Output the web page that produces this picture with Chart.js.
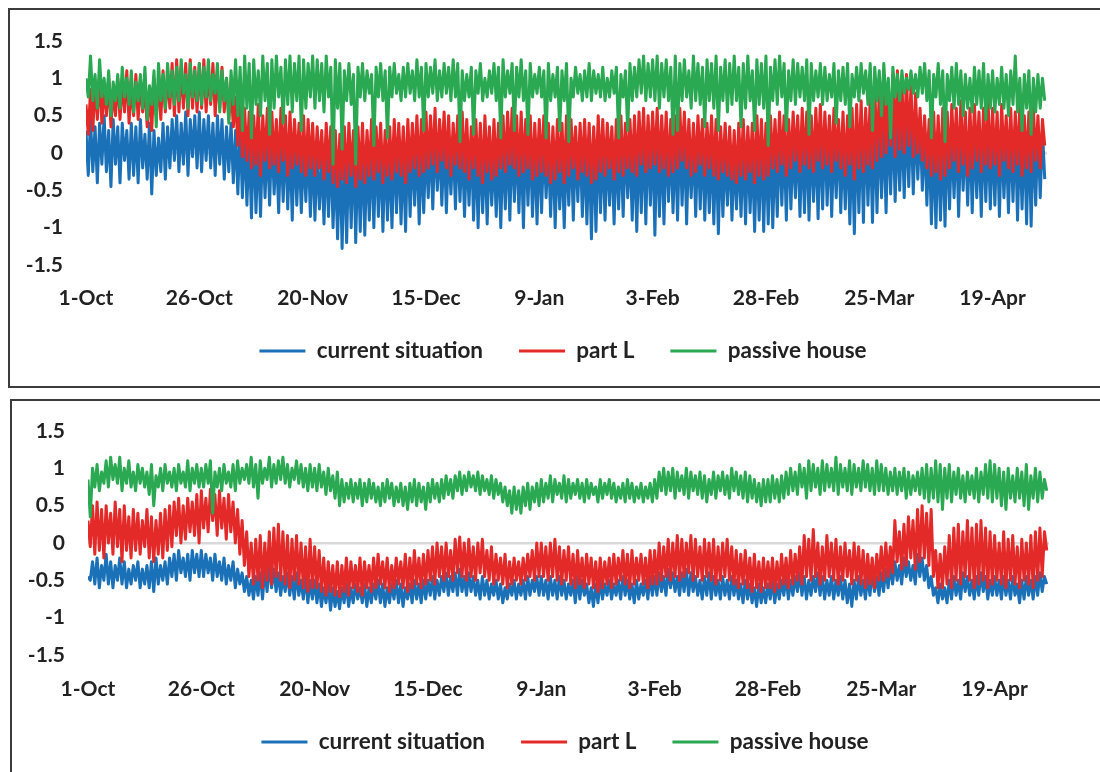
<!DOCTYPE html>
<html><head><meta charset="utf-8">
<script src="https://cdn.jsdelivr.net/npm/chart.js@4.4.1/dist/chart.umd.min.js"></script>
<style>
html,body{margin:0;padding:0;background:#fff;width:1100px;height:772px;overflow:hidden;}
.cv{position:absolute;left:0;}
#boxA{position:absolute;left:8px;top:8px;width:1200px;height:376px;border:2px solid #3c3c3c;}
#boxB{position:absolute;left:10px;top:399px;width:1200px;height:500px;border:2px solid #3c3c3c;}
</style></head><body>
<div id="boxA"></div><div id="boxB"></div>
<canvas id="cA" class="cv" style="top:0px" width="1100" height="386"></canvas>
<canvas id="cB" class="cv" style="top:392px" width="1100" height="380"></canvas>
<script>
// ---- categories / tick labels (one tick every 25 days, day 0 = 1-Oct) ----
const xTickLabels = ['1-Oct','26-Oct','20-Nov','15-Dec','9-Jan','3-Feb','28-Feb','25-Mar','19-Apr'];
const seriesNames = ['current situation','part L','passive house'];
const seriesColors = ['#1A71B8','#E42A29','#2AA852'];

// ---- TOP panel: daily high / low values (212 days, 1-Oct .. 30-Apr) ----
const topCurrentHi = [
0.3,0.45,0.35,0.4,0.5,0.3,0.45,0.35,0.4,0.3,0.4,0.35,0.45,0.25,0.4,0.3,0.2,0.4,0.35,0.45,0.5,0.4,0.55,0.45,0.5,
0.55,0.45,0.5,0.4,0.5,0.45,0.35,0.4,0.3,0.35,0.25,0.2,0.3,0.15,0.25,0.2,0.3,0.1,0.2,0.25,0.15,0.2,0.1,0.05,0.15,
0.1,0.0,-0.05,0.05,0.1,-0.1,0.0,0.05,0.1,0.15,0.05,0.1,0.0,0.1,0.15,0.05,0.1,0.0,0.15,0.1,0.05,0.2,0.1,0.15,0.05,
0.15,0.2,0.25,0.15,0.2,0.1,0.2,0.25,0.15,0.1,0.2,0.1,0.15,0.05,0.1,0.0,0.1,0.15,0.2,0.25,0.2,0.15,0.25,0.2,0.1,
0.15,0.2,0.1,0.15,0.05,0.0,0.1,0.2,0.15,0.2,0.1,0.15,0.2,0.25,0.15,0.1,0.05,0.1,0.15,0.2,0.1,0.15,0.2,0.25,0.3,
0.25,0.3,0.2,0.25,0.15,0.2,0.3,0.25,0.2,0.15,0.25,0.2,0.1,0.15,0.2,0.1,0.05,0.1,0.0,0.05,0.1,0.15,0.05,0.1,0.2,
0.15,0.2,0.1,0.25,0.2,0.3,0.15,0.25,0.2,0.3,0.25,0.2,0.3,0.35,0.25,0.2,0.3,0.15,0.25,0.2,0.3,0.35,0.4,0.3,0.35,
0.4,0.35,0.45,0.5,0.4,0.45,0.5,0.55,0.45,0.4,0.3,0.2,0.15,0.25,0.2,0.3,0.25,0.35,0.3,0.25,0.35,0.3,0.25,0.35,0.3,
0.25,0.35,0.3,0.2,0.3,0.35,0.25,0.3,0.35,0.3,0.35,0.3];
const topCurrentLo = [
-0.3,-0.25,-0.4,-0.15,-0.25,-0.45,-0.15,-0.4,-0.1,-0.35,-0.3,-0.4,-0.2,-0.35,-0.55,-0.3,-0.25,-0.35,-0.2,-0.1,-0.25,-0.15,-0.3,-0.05,-0.2,
-0.25,-0.1,-0.2,-0.3,-0.15,-0.35,-0.25,-0.4,-0.55,-0.6,-0.7,-0.87,-0.8,-0.85,-0.6,-0.7,-0.55,-0.8,-0.65,-0.75,-0.9,-0.7,-0.8,-0.65,-0.85,
-0.9,-0.75,-0.95,-0.85,-1.0,-1.15,-1.28,-1.2,-1.0,-1.2,-1.05,-1.1,-0.9,-1.0,-0.85,-1.05,-0.9,-1.0,-0.8,-0.95,-1.05,-0.85,-0.7,-0.95,-0.8,
-0.6,-0.75,-0.5,-0.7,-0.8,-0.55,-0.75,-0.65,-0.85,-0.7,-0.9,-1.0,-0.8,-0.95,-0.7,-0.85,-1.0,-0.75,-0.9,-0.65,-0.8,-1.0,-0.7,-0.85,-0.95,
-0.8,-0.6,-0.85,-1.0,-0.75,-1.0,-0.7,-0.9,-0.65,-0.85,-0.95,-1.15,-1.05,-0.8,-0.9,-0.7,-0.95,-0.75,-0.85,-0.6,-0.9,-1.05,-0.8,-0.95,-0.7,
-1.1,-0.85,-0.95,-0.65,-0.8,-0.9,-0.7,-0.95,-0.6,-0.85,-0.75,-0.9,-0.8,-0.95,-1.08,-0.85,-0.7,-0.9,-0.75,-0.85,-0.95,-0.8,-1.05,-0.9,-1.05,
-0.95,-1.0,-0.85,-0.7,-0.9,-0.75,-0.6,-0.85,-0.8,-0.9,-0.65,-0.88,-0.75,-0.7,-0.85,-0.6,-0.8,-0.75,-0.95,-1.08,-0.8,-0.93,-0.7,-0.93,-0.8,
-0.6,-0.8,-0.55,-0.65,-0.5,-0.6,-0.45,-0.55,-0.35,-0.5,-0.7,-0.95,-1.0,-0.9,-0.98,-0.75,-0.6,-0.85,-0.5,-0.7,-0.8,-0.6,-0.85,-0.65,-0.75,
-0.7,-0.85,-0.6,-0.8,-0.65,-0.9,-0.75,-0.95,-0.98,-0.7,-0.6,-0.35];
const topPartLHi = [
0.65,0.85,0.95,1.05,0.9,1.0,0.85,1.0,0.95,1.1,0.9,1.05,0.95,0.9,0.85,1.0,0.95,1.1,1.05,1.2,1.25,1.15,1.2,1.25,1.15,
1.2,1.25,1.1,1.2,1.05,1.15,1.0,0.9,0.75,0.7,0.6,0.55,0.5,0.65,0.5,0.6,0.55,0.45,0.6,0.5,0.55,0.45,0.4,0.5,0.45,
0.4,0.35,0.3,0.4,0.35,0.3,0.25,0.35,0.4,0.3,0.35,0.4,0.3,0.45,0.35,0.4,0.3,0.35,0.45,0.4,0.35,0.45,0.4,0.5,0.45,
0.55,0.5,0.6,0.45,0.55,0.5,0.4,0.5,0.55,0.45,0.35,0.45,0.4,0.5,0.35,0.45,0.4,0.5,0.55,0.6,0.5,0.55,0.45,0.5,0.4,
0.45,0.5,0.4,0.35,0.45,0.4,0.5,0.45,0.35,0.4,0.45,0.4,0.35,0.5,0.45,0.4,0.35,0.45,0.5,0.4,0.45,0.5,0.55,0.6,0.5,
0.55,0.6,0.5,0.55,0.45,0.5,0.6,0.55,0.45,0.4,0.5,0.45,0.4,0.5,0.45,0.35,0.4,0.35,0.3,0.4,0.45,0.35,0.4,0.5,0.45,
0.4,0.5,0.45,0.55,0.5,0.45,0.55,0.5,0.6,0.55,0.5,0.6,0.65,0.55,0.5,0.6,0.45,0.55,0.5,0.6,0.65,0.7,0.6,0.75,0.9,
0.85,1.0,0.9,1.05,1.1,0.95,1.05,0.9,0.8,0.6,0.5,0.45,0.55,0.5,0.6,0.55,0.65,0.6,0.7,0.55,0.6,0.65,0.55,0.6,0.7,
0.6,0.55,0.65,0.5,0.6,0.55,0.65,0.5,0.55,0.6,0.5,0.45];
const topPartLLo = [
0.25,0.3,0.45,0.4,0.5,0.35,0.5,0.45,0.55,0.4,0.5,0.45,0.55,0.35,0.3,0.5,0.45,0.55,0.6,0.5,0.55,0.6,0.5,0.6,0.55,
0.6,0.55,0.65,0.5,0.6,0.55,0.45,0.35,0.1,-0.05,-0.1,-0.2,-0.15,-0.3,-0.1,-0.2,-0.15,-0.25,-0.1,-0.3,-0.2,-0.15,-0.25,-0.3,-0.2,
-0.3,-0.2,-0.35,-0.25,-0.4,-0.45,-0.35,-0.4,-0.3,-0.45,-0.35,-0.4,-0.3,-0.35,-0.25,-0.4,-0.3,-0.35,-0.25,-0.3,-0.4,-0.25,-0.2,-0.3,-0.25,
-0.2,-0.15,-0.25,-0.1,-0.2,-0.3,-0.15,-0.2,-0.25,-0.35,-0.2,-0.3,-0.4,-0.25,-0.35,-0.3,-0.2,-0.25,-0.15,-0.2,-0.3,-0.25,-0.2,-0.35,-0.3,
-0.25,-0.3,-0.4,-0.35,-0.25,-0.4,-0.3,-0.2,-0.35,-0.25,-0.3,-0.4,-0.35,-0.25,-0.3,-0.2,-0.35,-0.25,-0.3,-0.2,-0.25,-0.3,-0.15,-0.25,-0.2,
-0.15,-0.25,-0.2,-0.3,-0.25,-0.2,-0.1,-0.2,-0.3,-0.25,-0.15,-0.3,-0.2,-0.3,-0.35,-0.25,-0.3,-0.35,-0.4,-0.3,-0.35,-0.25,-0.4,-0.3,-0.35,
-0.3,-0.2,-0.25,-0.15,-0.3,-0.2,-0.1,-0.25,-0.15,-0.2,-0.25,-0.1,-0.2,-0.15,-0.25,-0.1,-0.2,-0.3,-0.15,-0.35,-0.2,-0.25,-0.15,-0.2,-0.1,
-0.05,0.0,0.1,-0.05,0.05,0.0,0.1,-0.05,0.0,-0.1,-0.2,-0.3,-0.25,-0.35,-0.3,-0.2,-0.1,-0.25,-0.15,-0.3,-0.2,-0.1,-0.25,-0.15,-0.2,
-0.15,-0.3,-0.1,-0.2,-0.25,-0.15,-0.3,-0.2,-0.25,-0.1,-0.2,0.1];
const topPassiveHi = [
1.0,1.3,1.05,1.25,1.0,1.1,0.95,1.05,1.15,1.0,1.1,0.95,1.05,1.15,0.9,1.1,1.2,1.05,1.2,1.1,1.15,1.25,1.05,1.2,1.1,
1.2,1.15,1.25,1.05,1.2,1.1,1.0,1.1,1.25,1.15,1.3,1.2,1.25,1.1,1.3,1.2,1.25,1.3,1.15,1.25,1.3,1.2,1.3,1.25,1.2,
1.3,1.25,1.2,1.3,1.15,1.25,1.2,1.1,1.2,1.05,1.15,1.2,1.1,1.05,1.15,1.2,1.1,1.15,1.2,1.05,1.15,1.2,1.1,1.25,1.15,
1.2,1.15,1.25,1.1,1.2,1.15,1.25,1.2,1.1,1.05,1.15,1.1,1.2,1.0,1.1,1.2,1.15,1.25,1.1,1.2,1.15,1.25,1.1,1.2,1.05,
1.15,1.1,1.2,1.05,1.15,1.1,1.2,1.0,1.15,1.05,1.1,1.2,1.1,1.05,1.15,1.0,1.1,1.15,1.05,1.1,1.2,1.15,1.25,1.3,1.2,
1.25,1.3,1.2,1.25,1.15,1.3,1.2,1.25,1.1,1.3,1.2,1.15,1.25,1.2,1.3,1.15,1.25,1.2,1.3,1.15,1.2,1.3,1.1,1.25,1.2,
1.3,1.15,1.25,1.3,1.2,1.1,1.25,1.2,1.15,1.25,1.2,1.1,1.2,1.15,1.05,1.2,1.1,1.15,1.2,1.05,1.15,1.2,1.1,1.2,1.15,
1.1,1.2,1.0,1.15,1.05,1.1,1.0,1.1,1.05,1.15,1.2,1.1,1.05,1.2,1.1,1.05,1.15,1.2,1.1,1.05,1.0,1.15,1.1,1.2,1.05,
1.1,1.0,1.15,1.05,1.1,1.3,1.0,1.05,1.1,1.0,1.05,1.0];
const topPassiveLo = [
0.75,0.7,0.6,0.75,0.65,0.5,0.7,0.6,0.75,0.65,0.55,0.7,0.6,0.45,0.65,0.35,0.7,0.6,0.75,0.65,0.7,0.8,0.6,0.75,0.7,
0.65,0.75,0.7,0.8,0.55,0.7,0.4,0.65,0.5,0.3,0.6,0.2,0.65,0.5,0.7,0.25,0.6,0.75,0.4,0.65,0.55,0.7,0.3,0.6,0.75,
0.6,0.7,0.55,0.75,-0.15,0.6,0.05,0.7,0.65,-0.15,0.75,0.7,0.8,0.1,0.75,0.7,0.2,0.75,0.8,0.7,0.75,0.8,0.7,0.75,0.3,
0.75,0.8,0.7,0.75,0.8,0.7,0.75,0.15,0.7,0.75,0.25,0.8,0.7,0.75,0.8,0.7,0.2,0.75,0.8,0.3,0.75,0.7,0.25,0.75,0.8,
0.75,0.2,0.7,0.75,0.3,0.7,0.15,0.75,0.8,0.7,0.75,0.7,0.8,0.75,0.7,0.75,0.8,0.2,0.75,0.3,0.7,0.75,0.8,0.7,0.75,
0.7,0.6,0.75,0.7,0.25,0.3,0.7,0.75,0.6,0.7,0.65,0.35,0.7,0.6,0.3,0.7,0.55,0.65,0.7,0.35,0.6,0.7,0.3,0.65,0.6,
0.1,0.7,0.65,0.75,0.3,0.7,0.65,0.75,0.7,0.25,0.7,0.75,0.65,0.7,0.75,0.4,0.7,0.65,0.35,0.75,0.7,0.8,0.65,0.3,0.7,
0.5,0.65,0.2,0.75,0.7,0.8,0.85,0.8,0.75,0.8,0.7,0.2,0.75,0.65,0.15,0.7,0.6,0.65,0.5,0.6,0.55,0.65,0.6,0.45,0.6,
0.55,0.65,0.6,0.5,0.65,0.55,0.3,0.6,0.25,0.55,0.6,0.7];

// ---- BOTTOM panel: daily high / low values ----
const botCurrentHi = [
-0.45,-0.25,-0.2,-0.3,-0.15,-0.25,-0.3,-0.2,-0.25,-0.35,-0.3,-0.25,-0.35,-0.3,-0.25,-0.2,-0.3,-0.25,-0.2,-0.15,-0.1,-0.2,-0.15,-0.1,-0.15,
-0.1,-0.15,-0.2,-0.15,-0.25,-0.2,-0.3,-0.25,-0.35,-0.4,-0.45,-0.5,-0.45,-0.4,-0.35,-0.3,-0.35,-0.4,-0.45,-0.4,-0.45,-0.4,-0.5,-0.45,-0.5,
-0.5,-0.55,-0.6,-0.55,-0.6,-0.65,-0.6,-0.55,-0.6,-0.55,-0.6,-0.55,-0.6,-0.55,-0.5,-0.55,-0.6,-0.55,-0.5,-0.55,-0.6,-0.55,-0.5,-0.55,-0.5,
-0.5,-0.45,-0.5,-0.45,-0.4,-0.45,-0.4,-0.35,-0.45,-0.4,-0.45,-0.5,-0.45,-0.5,-0.55,-0.5,-0.55,-0.6,-0.55,-0.5,-0.55,-0.5,-0.45,-0.5,-0.45,
-0.45,-0.5,-0.45,-0.5,-0.45,-0.5,-0.55,-0.5,-0.45,-0.5,-0.55,-0.6,-0.55,-0.5,-0.55,-0.5,-0.55,-0.5,-0.45,-0.5,-0.55,-0.5,-0.55,-0.5,-0.45,
-0.45,-0.4,-0.45,-0.35,-0.4,-0.45,-0.4,-0.35,-0.4,-0.45,-0.5,-0.45,-0.4,-0.45,-0.5,-0.45,-0.5,-0.45,-0.5,-0.55,-0.5,-0.55,-0.6,-0.55,-0.6,
-0.55,-0.5,-0.55,-0.5,-0.45,-0.5,-0.45,-0.4,-0.45,-0.5,-0.45,-0.4,-0.45,-0.5,-0.45,-0.5,-0.45,-0.5,-0.55,-0.5,-0.45,-0.5,-0.45,-0.4,-0.45,
-0.4,-0.35,-0.3,-0.25,-0.3,-0.2,-0.25,-0.3,-0.15,-0.2,-0.3,-0.45,-0.6,-0.55,-0.6,-0.5,-0.45,-0.5,-0.4,-0.45,-0.5,-0.45,-0.4,-0.45,-0.5,
-0.45,-0.5,-0.45,-0.5,-0.45,-0.55,-0.5,-0.45,-0.5,-0.45,-0.4,-0.45];
const botCurrentLo = [
-0.5,-0.55,-0.6,-0.5,-0.55,-0.6,-0.5,-0.55,-0.6,-0.55,-0.5,-0.6,-0.55,-0.6,-0.65,-0.55,-0.5,-0.55,-0.45,-0.5,-0.4,-0.45,-0.5,-0.4,-0.45,
-0.45,-0.4,-0.5,-0.45,-0.5,-0.55,-0.5,-0.6,-0.55,-0.65,-0.7,-0.75,-0.7,-0.75,-0.65,-0.6,-0.65,-0.7,-0.65,-0.7,-0.75,-0.7,-0.75,-0.8,-0.75,
-0.8,-0.85,-0.8,-0.9,-0.85,-0.88,-0.8,-0.85,-0.8,-0.75,-0.8,-0.85,-0.8,-0.75,-0.8,-0.85,-0.8,-0.75,-0.8,-0.85,-0.75,-0.8,-0.75,-0.8,-0.75,
-0.7,-0.75,-0.7,-0.65,-0.7,-0.65,-0.7,-0.65,-0.7,-0.65,-0.7,-0.75,-0.7,-0.75,-0.7,-0.75,-0.8,-0.75,-0.7,-0.75,-0.7,-0.75,-0.7,-0.65,-0.7,
-0.7,-0.75,-0.7,-0.75,-0.7,-0.75,-0.7,-0.8,-0.75,-0.7,-0.8,-0.85,-0.8,-0.75,-0.7,-0.75,-0.7,-0.75,-0.7,-0.75,-0.8,-0.75,-0.7,-0.75,-0.7,
-0.7,-0.65,-0.7,-0.6,-0.65,-0.7,-0.65,-0.7,-0.65,-0.7,-0.75,-0.7,-0.75,-0.7,-0.75,-0.7,-0.75,-0.7,-0.75,-0.8,-0.75,-0.8,-0.85,-0.8,-0.8,
-0.75,-0.8,-0.75,-0.7,-0.75,-0.7,-0.65,-0.7,-0.75,-0.7,-0.65,-0.7,-0.75,-0.7,-0.75,-0.7,-0.75,-0.8,-0.85,-0.75,-0.7,-0.75,-0.7,-0.65,-0.7,
-0.65,-0.6,-0.55,-0.5,-0.55,-0.45,-0.5,-0.55,-0.45,-0.5,-0.6,-0.7,-0.8,-0.75,-0.8,-0.75,-0.7,-0.75,-0.65,-0.7,-0.75,-0.7,-0.65,-0.75,-0.7,
-0.7,-0.75,-0.7,-0.75,-0.7,-0.8,-0.75,-0.7,-0.75,-0.7,-0.65,-0.55];
const botPartLHi = [
0.3,0.5,0.55,0.45,0.5,0.4,0.55,0.45,0.5,0.35,0.45,0.4,0.3,0.45,0.35,0.3,0.4,0.45,0.5,0.55,0.6,0.5,0.6,0.55,0.65,
0.7,0.6,0.72,0.65,0.7,0.6,0.65,0.55,0.45,0.3,0.15,0.0,0.05,0.1,0.0,0.15,0.2,0.25,0.15,0.1,0.05,0.1,0.0,-0.05,0.05,
-0.05,-0.1,-0.2,-0.25,-0.3,-0.25,-0.3,-0.2,-0.25,-0.3,-0.2,-0.25,-0.3,-0.2,-0.15,-0.25,-0.2,-0.3,-0.2,-0.25,-0.15,-0.2,-0.1,-0.2,-0.15,
-0.1,-0.05,0.0,-0.05,0.0,-0.1,0.05,0.08,0.0,0.05,-0.05,0.0,0.05,-0.1,-0.05,-0.15,-0.2,-0.15,-0.25,-0.2,-0.25,-0.2,-0.15,-0.1,0.0,
0.0,-0.05,0.0,0.05,-0.05,-0.1,-0.05,-0.15,-0.1,-0.2,-0.15,-0.2,-0.25,-0.2,-0.25,-0.2,-0.15,-0.2,-0.1,-0.15,-0.1,-0.2,-0.15,-0.2,-0.1,
-0.1,0.0,-0.05,0.05,0.0,0.1,0.05,0.0,0.1,0.05,-0.05,0.05,0.0,0.05,-0.05,0.0,0.05,-0.05,-0.1,-0.15,-0.1,-0.2,-0.15,-0.25,-0.2,
-0.25,-0.2,-0.25,-0.15,-0.2,-0.1,-0.15,-0.05,0.1,0.05,0.18,0.0,-0.05,0.1,0.0,0.05,-0.05,0.0,-0.1,0.0,-0.05,-0.1,-0.15,-0.2,-0.15,
-0.05,0.0,-0.05,0.3,0.15,0.25,0.35,0.3,0.45,0.5,0.4,0.45,-0.1,-0.15,-0.05,0.1,0.2,0.25,0.15,0.3,0.2,0.25,0.3,0.2,0.15,
0.1,0.0,0.15,0.05,0.1,-0.05,0.05,0.0,0.1,0.15,0.2,0.15];
const botPartLLo = [
-0.05,-0.15,-0.1,-0.2,0.0,-0.15,-0.05,-0.25,-0.1,-0.2,-0.1,-0.15,-0.05,-0.2,-0.25,-0.15,-0.2,-0.1,-0.05,0.1,0.0,0.05,0.15,0.1,0.0,
0.2,0.15,0.3,0.1,0.2,0.05,0.15,0.0,-0.15,-0.3,-0.45,-0.55,-0.5,-0.6,-0.5,-0.55,-0.45,-0.5,-0.55,-0.6,-0.5,-0.55,-0.6,-0.65,-0.6,
-0.6,-0.65,-0.7,-0.65,-0.7,-0.72,-0.65,-0.7,-0.6,-0.65,-0.7,-0.6,-0.65,-0.6,-0.55,-0.6,-0.65,-0.6,-0.55,-0.6,-0.65,-0.6,-0.55,-0.6,-0.55,
-0.5,-0.55,-0.45,-0.5,-0.45,-0.5,-0.4,-0.45,-0.5,-0.45,-0.5,-0.4,-0.45,-0.5,-0.55,-0.5,-0.55,-0.6,-0.55,-0.5,-0.55,-0.5,-0.45,-0.5,-0.45,
-0.45,-0.5,-0.45,-0.5,-0.55,-0.5,-0.55,-0.6,-0.55,-0.6,-0.55,-0.6,-0.65,-0.6,-0.55,-0.6,-0.55,-0.5,-0.55,-0.6,-0.55,-0.5,-0.55,-0.6,-0.55,
-0.55,-0.5,-0.45,-0.5,-0.45,-0.5,-0.45,-0.4,-0.5,-0.45,-0.5,-0.45,-0.5,-0.55,-0.5,-0.45,-0.5,-0.55,-0.6,-0.55,-0.6,-0.65,-0.6,-0.65,-0.6,
-0.6,-0.65,-0.6,-0.55,-0.6,-0.55,-0.5,-0.55,-0.45,-0.5,-0.45,-0.55,-0.5,-0.45,-0.5,-0.55,-0.5,-0.45,-0.55,-0.5,-0.55,-0.6,-0.55,-0.6,-0.5,
-0.5,-0.45,-0.4,-0.25,-0.35,-0.3,-0.2,-0.35,-0.25,-0.2,-0.3,-0.45,-0.6,-0.6,-0.55,-0.6,-0.5,-0.55,-0.45,-0.5,-0.6,-0.55,-0.5,-0.6,-0.55,
-0.5,-0.55,-0.6,-0.5,-0.55,-0.6,-0.5,-0.55,-0.6,-0.5,-0.45,-0.1];
const botPassiveHi = [
0.85,1.0,1.05,0.95,1.1,1.15,1.05,1.15,1.0,1.1,0.95,1.05,1.0,0.95,1.05,0.9,1.0,1.05,0.95,1.0,1.05,0.95,1.1,1.0,1.05,
1.0,1.05,1.1,0.95,1.0,1.05,0.95,1.05,1.1,1.0,1.05,1.15,1.05,1.1,1.0,1.15,1.05,1.1,1.15,1.05,1.0,1.1,1.05,1.0,1.05,
1.0,1.05,0.95,1.0,0.9,0.95,0.85,0.8,0.85,0.8,0.85,0.8,0.85,0.8,0.75,0.8,0.85,0.8,0.75,0.8,0.75,0.8,0.85,0.8,0.75,
0.8,0.85,0.8,0.85,0.9,0.85,0.9,0.95,0.9,0.95,0.9,0.95,0.9,0.85,0.9,0.85,0.8,0.75,0.7,0.75,0.7,0.75,0.8,0.75,0.8,
0.85,0.8,0.9,0.85,0.8,0.9,0.85,0.8,0.85,0.8,0.85,0.8,0.75,0.85,0.8,0.85,0.8,0.75,0.8,0.85,0.8,0.75,0.8,0.75,0.8,
0.85,0.95,1.0,0.95,1.0,0.95,0.9,1.0,0.95,0.9,0.95,0.9,0.85,0.95,0.9,0.95,0.9,1.0,0.95,0.9,0.95,0.9,0.85,0.8,0.85,
0.85,0.9,0.85,0.9,0.95,1.0,0.95,1.05,1.0,1.1,1.05,1.0,1.1,1.05,1.0,1.15,1.05,1.0,1.1,1.05,1.0,1.1,1.05,1.0,1.1,
1.05,1.0,0.95,1.0,0.95,1.0,0.95,0.9,0.95,1.0,1.05,1.0,1.1,1.05,1.0,1.05,0.95,1.0,0.9,0.95,0.9,1.0,0.95,1.05,1.1,
1.05,1.0,0.95,1.0,0.9,1.0,0.95,1.05,0.9,1.0,0.95,0.85];
const botPassiveLo = [
0.35,0.75,0.7,0.8,0.75,0.85,0.8,0.7,0.8,0.75,0.7,0.8,0.75,0.65,0.5,0.75,0.7,0.8,0.75,0.7,0.8,0.75,0.7,0.8,0.75,
0.75,0.8,0.4,0.75,0.7,0.8,0.75,0.7,0.8,0.85,0.8,0.75,0.6,0.8,0.85,0.75,0.8,0.85,0.8,0.75,0.85,0.8,0.75,0.7,0.75,
0.7,0.75,0.65,0.7,0.6,0.5,0.55,0.6,0.55,0.6,0.5,0.55,0.6,0.55,0.5,0.55,0.6,0.5,0.55,0.5,0.45,0.55,0.5,0.55,0.45,
0.55,0.6,0.55,0.6,0.65,0.6,0.7,0.65,0.7,0.75,0.7,0.65,0.7,0.65,0.6,0.65,0.55,0.5,0.4,0.45,0.4,0.5,0.45,0.55,0.5,
0.55,0.6,0.55,0.65,0.6,0.55,0.6,0.65,0.6,0.55,0.6,0.65,0.55,0.6,0.65,0.6,0.55,0.6,0.55,0.6,0.55,0.6,0.55,0.6,0.55,
0.6,0.7,0.65,0.7,0.6,0.7,0.65,0.6,0.7,0.65,0.6,0.55,0.65,0.6,0.7,0.65,0.6,0.7,0.65,0.6,0.55,0.6,0.55,0.5,0.55,
0.55,0.6,0.55,0.6,0.65,0.7,0.65,0.75,0.6,0.7,0.75,0.65,0.7,0.75,0.7,0.65,0.75,0.7,0.65,0.75,0.7,0.75,0.7,0.65,0.7,
0.7,0.65,0.7,0.65,0.7,0.6,0.65,0.7,0.65,0.6,0.55,0.6,0.55,0.45,0.6,0.55,0.65,0.6,0.55,0.65,0.6,0.55,0.65,0.6,0.55,
0.6,0.5,0.45,0.6,0.55,0.6,0.5,0.45,0.6,0.55,0.6,0.7];

// ---- build chart ----
Chart.defaults.font.family = 'Lato';
Chart.defaults.font.weight = 'bold';
Chart.defaults.color = '#222';

function zigzag(hi, lo) {
  const pts = [];
  const n = Math.min(hi.length, lo.length);
  for (let d = 0; d < n; d++) {
    pts.push({x: d, y: hi[d]});
    pts.push({x: d + 0.5, y: lo[d]});
  }
  return pts;
}

// moves the legend row to a chosen centre / text line after layout
const legendPlace = {
  id: 'legendPlace',
  afterLayout(chart, args, o) {
    const lg = chart.legend;
    if (!lg) return;
    const dx = o.centerX - (lg.left + lg.right) / 2;
    lg.left += dx; lg.right += dx;
    const h = lg.bottom - lg.top;
    const top = o.textY - o.pad - o.itemH / 2;
    lg.top = top; lg.bottom = top + h;
  }
};

const LEG_FONT = 22.5, LEG_PAD = 36;

function makeChart(id, hiLo, lay) {
  const datasets = hiLo.map((s, i) => ({
    label: seriesNames[i],
    data: zigzag(s[0], s[1]),
    borderColor: seriesColors[i],
    backgroundColor: seriesColors[i],
    borderWidth: 3,
    borderJoinStyle: 'round',
    pointRadius: 0,
    tension: 0,
    order: 3 - i
  }));
  return new Chart(document.getElementById(id), {
    type: 'line',
    data: {datasets},
    plugins: [legendPlace],
    options: {
      responsive: false,
      animation: false,
      parsing: false,
      normalized: true,
      events: [],
      layout: {padding: {left: lay.padL, right: lay.padR, top: lay.padT, bottom: lay.padB}},
      scales: {
        x: {
          type: 'linear', min: 0, max: 212,
          grid: {display: false, drawTicks: false},
          border: {display: false},
          ticks: {
            stepSize: 25, autoSkip: false, maxRotation: 0, includeBounds: false,
            padding: lay.xPad, color: '#222',
            font: {family: 'Lato', size: 21, weight: 'bold'},
            callback: (v) => (v % 25 === 0 && xTickLabels[v / 25] !== undefined) ? xTickLabels[v / 25] : ''
          },
          afterFit: (s) => { s.height = lay.xH; }
        },
        y: {
          min: -1.5, max: 1.5,
          grid: {
            drawTicks: false,
            color: (c) => (c.tick && c.tick.value === 0) ? '#d9d9d9' : 'rgba(0,0,0,0)',
            lineWidth: 2.5
          },
          border: {display: false},
          ticks: {
            stepSize: 0.5, padding: 23, color: '#222',
            font: {family: 'Lato', size: 21, weight: 'bold'},
            callback: (v) => String(Math.round(v * 10) / 10)
          },
          afterFit: (s) => { s.width = lay.yW; }
        }
      },
      plugins: {
        tooltip: {enabled: false},
        legendPlace: {centerX: lay.legCX, textY: lay.legY, pad: LEG_PAD, itemH: LEG_FONT},
        legend: {
          position: 'bottom',
          labels: {
            boxWidth: 46, boxHeight: 3, padding: LEG_PAD, color: '#222',
            font: {family: 'Lato', size: LEG_FONT, weight: 'bold'},
            generateLabels: (chart) => Chart.defaults.plugins.legend.labels.generateLabels(chart)
              .map(l => Object.assign(l, {lineWidth: 0})),
            sort: (a, b) => a.datasetIndex - b.datasetIndex
          }
        }
      }
    }
  });
}

makeChart('cA', [[topCurrentHi, topCurrentLo], [topPartLHi, topPartLLo], [topPassiveHi, topPassiveLo]],
  {padL: 10, padR: 53, padT: 41, padB: 2.5, yW: 76, xH: 50, xPad: 21, legCX: 563, legY: 351});
makeChart('cB', [[botCurrentHi, botCurrentLo], [botPartLHi, botPartLLo], [botPassiveHi, botPassiveLo]],
  {padL: 12, padR: 51, padT: 39, padB: 0.5, yW: 76, xH: 48, xPad: 22, legCX: 565, legY: 350});
</script>
</body></html>
